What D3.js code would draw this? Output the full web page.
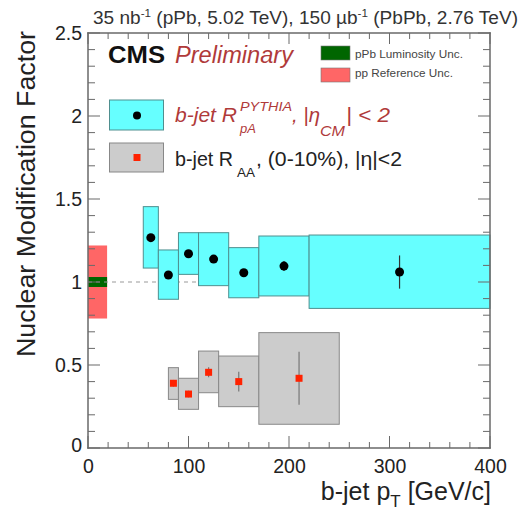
<!DOCTYPE html>
<html><head><meta charset="utf-8">
<script src="https://cdn.jsdelivr.net/npm/d3@7"></script>
<style>body{margin:0;background:#fff}svg{display:block}text{font-family:"Liberation Sans",Arial,Helvetica,sans-serif}</style>
</head><body><svg id="c" width="524" height="513"></svg>
<script>
// pPb b-jet R_pA (PYTHIA reference)
const pPbLo = [55, 70, 90, 110, 140, 170, 220];
const pPbHi = [70, 90, 110, 140, 170, 220, 400];
const pPbX = [62.5, 80, 100, 125, 155, 195, 310];
const pPbY = [1.267, 1.042, 1.17, 1.138, 1.056, 1.096, 1.06];
const pPbSysLo = [1.084, 0.896, 1.046, 0.978, 0.905, 0.916, 0.841];
const pPbSysHi = [1.454, 1.193, 1.297, 1.297, 1.207, 1.277, 1.283];
const pPbStat = [0.02, 0.02, 0.02, 0.02, 0.02, 0.03, 0.10];
// PbPb b-jet R_AA (0-10%)
const aaLo = [80, 90, 110, 130, 170];
const aaHi = [90, 110, 130, 170, 250];
const aaX = [85, 100, 120, 150, 210];
const aaY = [0.39, 0.325, 0.456, 0.40, 0.42];
const aaSysLo = [0.293, 0.233, 0.333, 0.249, 0.143];
const aaSysHi = [0.484, 0.42, 0.584, 0.554, 0.695];
const aaStat = [0.02, 0.02, 0.03, 0.06, 0.16];
// normalisation uncertainties at unity
const normX = [0, 19];
const ppRefUnc = 0.22;
const lumiUnc = 0.03;
const xTicks = [0, 100, 200, 300, 400];
const xMinorTicks = [20, 40, 60, 80, 120, 140, 160, 180, 220, 240, 260, 280, 320, 340, 360, 380];
const yTicks = [0, 0.5, 1, 1.5, 2, 2.5];
const yMinorTicks = [0.1, 0.2, 0.3, 0.4, 0.6, 0.7, 0.8, 0.9, 1.1, 1.2, 1.3, 1.4, 1.6, 1.7, 1.8, 1.9, 2.1, 2.2, 2.3, 2.4];

const svg = d3.select("#c");
const x = d3.scaleLinear().domain([0, 400]).range([88, 490]);
const y = d3.scaleLinear().domain([0, 2.5]).range([448, 33]);
const txtCol = "#222";
const FONT = "Liberation Sans, Arial, sans-serif";

// normalisation boxes
svg.append("rect").attr("x", x(normX[0])).attr("width", x(normX[1]) - x(normX[0]))
  .attr("y", y(1 + ppRefUnc)).attr("height", y(1 - ppRefUnc) - y(1 + ppRefUnc)).attr("fill", "#ff6666");
svg.append("rect").attr("x", x(normX[0])).attr("width", x(normX[1]) - x(normX[0]))
  .attr("y", y(1 + lumiUnc)).attr("height", y(1 - lumiUnc) - y(1 + lumiUnc)).attr("fill", "#006600");

// dashed line at 1
svg.append("line").attr("x1", x(0)).attr("x2", x(400)).attr("y1", y(1)).attr("y2", y(1))
  .attr("stroke", "#999").attr("stroke-dasharray", "4,4").attr("stroke-width", 1);

const pPb = pPbX.map((v, i) => ({lo: pPbLo[i], hi: pPbHi[i], x: v, y: pPbY[i], sl: pPbSysLo[i], sh: pPbSysHi[i], st: pPbStat[i]}));
const aa = aaX.map((v, i) => ({lo: aaLo[i], hi: aaHi[i], x: v, y: aaY[i], sl: aaSysLo[i], sh: aaSysHi[i], st: aaStat[i]}));

function boxes(data, fill, stroke) {
  svg.append("g").selectAll("rect").data(data).join("rect")
    .attr("x", d => x(d.lo)).attr("width", d => x(d.hi) - x(d.lo))
    .attr("y", d => y(d.sh)).attr("height", d => y(d.sl) - y(d.sh))
    .attr("fill", fill).attr("stroke", stroke).attr("stroke-width", 1);
}
boxes(pPb, "#66ffff", "#4f8f8f");
boxes(aa, "#cccccc", "#888");

// stat error bars
svg.append("g").selectAll("line").data(pPb).join("line")
  .attr("x1", d => x(d.x)).attr("x2", d => x(d.x)).attr("y1", d => y(d.y + d.st)).attr("y2", d => y(d.y - d.st))
  .attr("stroke", "#333").attr("stroke-width", 1.2);
svg.append("g").selectAll("line").data(aa).join("line")
  .attr("x1", d => x(d.x)).attr("x2", d => x(d.x)).attr("y1", d => y(d.y + d.st)).attr("y2", d => y(d.y - d.st))
  .attr("stroke", "#777").attr("stroke-width", 1.2);

// markers
svg.append("g").selectAll("circle").data(pPb).join("circle")
  .attr("cx", d => x(d.x)).attr("cy", d => y(d.y)).attr("r", 4.5).attr("fill", "#000");
svg.append("g").selectAll("rect").data(aa).join("rect")
  .attr("x", d => x(d.x) - 3.5).attr("y", d => y(d.y) - 3.5).attr("width", 7).attr("height", 7).attr("fill", "#ff2200");

// frame and inward ticks as thin filled bars (x, y, w, h)
const [xa, xb] = x.range(), [ya, yb] = y.range();
const bars = [
  [xa - 0.75, yb - 0.75, xb - xa + 1.5, 1.5], [xa - 0.75, ya - 0.75, xb - xa + 1.5, 1.5],
  [xa - 0.75, yb - 0.75, 1.5, ya - yb + 1.5], [xb - 0.75, yb - 0.75, 1.5, ya - yb + 1.5]
];
xTicks.forEach(v => { bars.push([x(v) - 0.5, ya - 12, 1, 12]); bars.push([x(v) - 0.5, yb, 1, 11]); });
xMinorTicks.forEach(v => { bars.push([x(v) - 0.5, ya - 6, 1, 6]); bars.push([x(v) - 0.5, yb, 1, 6]); });
yTicks.forEach(v => { bars.push([xa, y(v) - 0.5, 12, 1]); bars.push([xb - 12, y(v) - 0.5, 12, 1]); });
yMinorTicks.forEach(v => { bars.push([xa, y(v) - 0.5, 7, 1]); bars.push([xb - 7, y(v) - 0.5, 7, 1]); });
svg.append("g").attr("class", "frame").selectAll("rect").data(bars).join("rect")
  .attr("x", d => d[0]).attr("y", d => d[1]).attr("width", d => d[2]).attr("height", d => d[3])
  .attr("fill", "#6a6a6a");

// tick labels via d3 axes
const xAx = svg.append("g").attr("transform", `translate(0,${y(0)})`)
  .call(d3.axisBottom(x).tickValues(xTicks).tickSize(0).tickPadding(11).tickFormat(d3.format("d")));
xAx.select(".domain").remove();
xAx.selectAll("text").attr("font-size", 19.5).attr("fill", txtCol).attr("font-family", FONT);
const yAx = svg.append("g").attr("transform", `translate(${x(0)},0)`)
  .call(d3.axisLeft(y).tickValues(yTicks).tickSize(0).tickPadding(6).tickFormat(d => String(d)));
yAx.select(".domain").remove();
yAx.selectAll("text").attr("font-size", 19.5).attr("fill", txtCol).attr("font-family", FONT);
yAx.selectAll(".tick").filter(d => d === 0).select("text").attr("dy", "0.2em");

// axis titles
svg.append("text").attr("transform", `translate(35,31) rotate(-90)`).attr("text-anchor", "end")
  .attr("font-size", 26).attr("fill", txtCol).attr("textLength", 326).attr("lengthAdjust", "spacingAndGlyphs")
  .text("Nuclear Modification Factor");
const xt = svg.append("text").attr("x", 491).attr("y", 500).attr("text-anchor", "end").attr("font-size", 25).attr("fill", txtCol);
xt.append("tspan").text("b-jet p");
xt.append("tspan").attr("font-size", 17).attr("dy", 7).text("T");
xt.append("tspan").attr("dy", -7).text(" [GeV/c]");

// top label
const tl = svg.append("text").attr("x", 93).attr("y", 23.5).attr("font-size", 18).attr("fill", "#333")
  .attr("textLength", 425).attr("lengthAdjust", "spacingAndGlyphs");
tl.append("tspan").text("35 nb");
tl.append("tspan").attr("font-size", 11).attr("dy", -7).text("-1");
tl.append("tspan").attr("dy", 7).text(" (pPb, 5.02 TeV), 150 \u00b5b");
tl.append("tspan").attr("font-size", 11).attr("dy", -7).text("-1");
tl.append("tspan").attr("dy", 7).text(" (PbPb, 2.76 TeV)");

// CMS Preliminary
svg.append("text").attr("x", 108).attr("y", 63).attr("font-size", 23).attr("font-weight", "bold").attr("fill", "#111")
  .attr("textLength", 57).attr("lengthAdjust", "spacingAndGlyphs").text("CMS");
svg.append("text").attr("x", 175).attr("y", 63).attr("font-size", 23).attr("font-style", "italic").attr("fill", "#b03a3a")
  .attr("textLength", 118).attr("lengthAdjust", "spacingAndGlyphs").text("Preliminary");

// small legend
svg.append("rect").attr("x", 321).attr("y", 46).attr("width", 29).attr("height", 14).attr("fill", "#006600").attr("stroke", "#777").attr("stroke-width", 0.6);
svg.append("rect").attr("x", 321).attr("y", 68).attr("width", 29).attr("height", 14).attr("fill", "#ff6666").attr("stroke", "#777").attr("stroke-width", 0.6);
svg.append("text").attr("x", 355).attr("y", 57.5).attr("font-size", 10.5).attr("fill", "#444")
  .attr("textLength", 108).attr("lengthAdjust", "spacingAndGlyphs").text("pPb Luminosity Unc.");
svg.append("text").attr("x", 355).attr("y", 76.5).attr("font-size", 10.5).attr("fill", "#444")
  .attr("textLength", 98).attr("lengthAdjust", "spacingAndGlyphs").text("pp Reference Unc.");

// main legend
svg.append("rect").attr("x", 109.5).attr("y", 100).attr("width", 54).attr("height", 30).attr("fill", "#66ffff").attr("stroke", "#4f8f8f");
svg.append("circle").attr("cx", 137).attr("cy", 115.5).attr("r", 4).attr("fill", "#000");
svg.append("rect").attr("x", 109.5).attr("y", 143).attr("width", 54).attr("height", 29).attr("fill", "#cccccc").attr("stroke", "#888");
svg.append("rect").attr("x", 133.5).attr("y", 154).attr("width", 7).attr("height", 7).attr("fill", "#ff2200");

const red = "#b03a3a";
function t(xp, yp, size, str, opts = {}) {
  const e = svg.append("text").attr("x", xp).attr("y", yp).attr("font-size", size).attr("fill", opts.fill || txtCol).text(str);
  if (opts.italic) e.attr("font-style", "italic");
  if (opts.len) e.attr("textLength", opts.len).attr("lengthAdjust", "spacingAndGlyphs");
  return e;
}
t(175, 122, 21, "b-jet R", {fill: red, italic: true, len: 62});
t(240, 111, 12, "PYTHIA", {fill: red, italic: true, len: 52});
t(240, 133, 13, "pA", {fill: red, italic: true});
t(292, 122, 21, ", |\u03b7", {fill: red, italic: true, len: 28});
t(320, 136, 15, "CM", {fill: red, italic: true, len: 25});
t(346, 122, 21, "| < 2", {fill: red, italic: true, len: 44});

t(175, 166, 20.5, "b-jet R", {len: 58});
t(237, 177, 13, "AA", {len: 18});
t(256, 166, 20.5, ", (0-10%), |\u03b7|<2", {len: 146});
</script></body></html>
